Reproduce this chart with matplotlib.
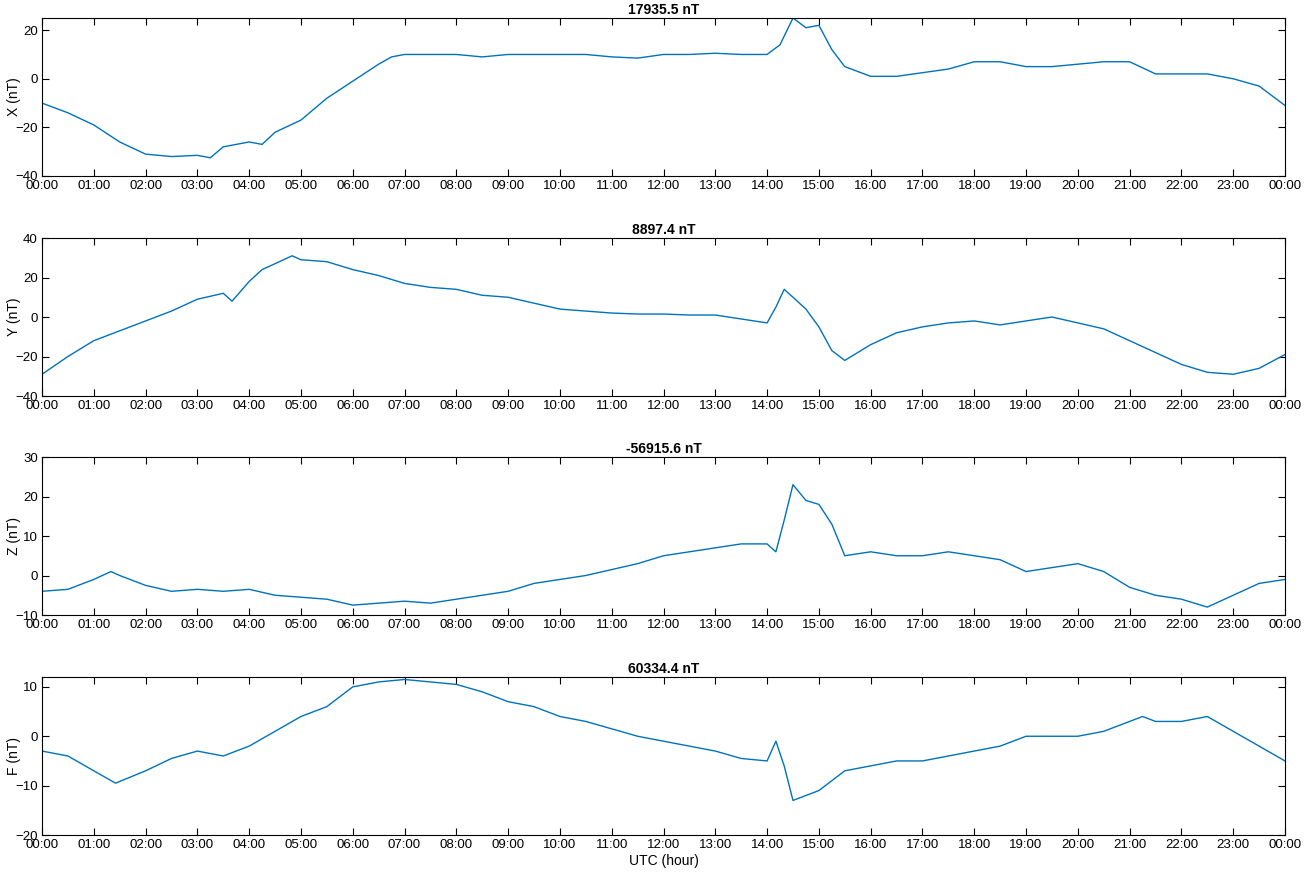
import matplotlib
matplotlib.use("Agg")
import matplotlib.pyplot as plt

tx = [0,0.5,1,1.5,2,2.5,3,3.25,3.5,4,4.25,4.5,5,5.5,6,6.5,6.75,7,7.5,8,8.5,9,9.5,10,10.5,11,11.5,12,12.5,13,13.5,14,14.25,14.5,14.75,15,15.25,15.5,16,16.5,17,17.5,18,18.5,19,19.5,20,20.5,21,21.5,22,22.5,23,23.5,24]
vx = [-10,-14,-19,-26,-31,-32,-31.5,-32.5,-28,-26,-27,-22,-17,-8,-1,6,9,10,10,10,9,10,10,10,10,9,8.5,10,10,10.5,10,10,14,25,21,22,12,5,1,1,2.5,4,7,7,5,5,6,7,7,2,2,2,0,-3,-11]

ty = [0,0.5,1,1.5,2,2.5,3,3.5,3.67,4,4.25,4.5,4.83,5,5.5,6,6.5,7,7.5,8,8.5,9,9.5,10,10.5,11,11.5,12,12.5,13,13.5,14,14.17,14.33,14.5,14.75,15,15.25,15.5,16,16.5,17,17.5,18,18.5,19,19.5,20,20.5,21,21.5,22,22.5,23,23.5,24]
vy = [-29,-20,-12,-7,-2,3,9,12,8,18,24,27,31,29,28,24,21,17,15,14,11,10,7,4,3,2,1.5,1.5,1,1,-1,-3,5,14,10,4,-5,-17,-22,-14,-8,-5,-3,-2,-4,-2,0,-3,-6,-12,-18,-24,-28,-29,-26,-19]

tz = [0,0.5,1,1.33,1.5,2,2.5,3,3.5,4,4.5,5,5.5,6,6.5,7,7.5,8,8.5,9,9.5,10,10.5,11,11.5,12,12.5,13,13.5,14,14.17,14.33,14.5,14.75,15,15.25,15.5,16,16.5,17,17.5,18,18.5,19,19.5,20,20.5,21,21.5,22,22.5,23,23.5,24]
vz = [-4,-3.5,-1,1,0,-2.5,-4,-3.5,-4,-3.5,-5,-5.5,-6,-7.5,-7,-6.5,-7,-6,-5,-4,-2,-1,0,1.5,3,5,6,7,8,8,6,14,23,19,18,13,5,6,5,5,6,5,4,1,2,3,1,-3,-5,-6,-8,-5,-2,-1]

tf = [0,0.5,1,1.42,2,2.5,3,3.5,4,4.5,5,5.5,6,6.5,7,7.5,8,8.5,9,9.5,10,10.5,11,11.5,12,12.5,13,13.5,14,14.17,14.33,14.5,15,15.5,16,16.5,17,17.5,18,18.5,19,19.5,20,20.5,21,21.25,21.5,22,22.5,23,23.5,24]
vf = [-3,-4,-7,-9.5,-7,-4.5,-3,-4,-2,1,4,6,10,11,11.5,11,10.5,9,7,6,4,3,1.5,0,-1,-2,-3,-4.5,-5,-1,-6,-13,-11,-7,-6,-5,-5,-4,-3,-2,0,0,0,1,3,4,3,3,4,1,-2,-5]

titles = ["17935.5 nT", "8897.4 nT", "-56915.6 nT", "60334.4 nT"]
ylabels = ["X (nT)", "Y (nT)", "Z (nT)", "F (nT)"]
ylims = [(-40, 25), (-40, 40), (-10, 30), (-20, 12)]
yticks = [[-40,-20,0,20], [-40,-20,0,20,40], [-10,0,10,20,30], [-20,-10,0,10]]
xticklabels = ["%02d:00" % (h % 24) for h in range(25)]

plt.rcParams['font.family'] = ['Liberation Sans', 'DejaVu Sans']
fig = plt.figure(figsize=(13.07, 8.72), dpi=100)
W, H = 1307, 872
tops = [18, 238, 457, 677]
series = [(tx, vx), (ty, vy), (tz, vz), (tf, vf)]
for i in range(4):
    ax = fig.add_axes([42/W, 1-(tops[i]+158)/H, (1285-42)/W, 158/H])
    t, v = series[i]
    ax.plot(t, v, color='#0072BD', lw=1)
    ax.set_xlim(0, 24)
    ax.set_ylim(*ylims[i])
    ax.set_yticks(yticks[i])
    ax.set_xticks(range(25))
    ax.set_xticklabels(xticklabels)
    ax.tick_params(direction='in', top=True, right=True, labelsize=9.5, length=5, pad=3)
    ax.set_title(titles[i], fontsize=10, fontweight='bold', pad=3)
    ax.set_ylabel(ylabels[i], fontsize=10)
    ax.yaxis.set_label_coords(-0.017, 0.5)
    if i == 3:
        ax.set_xlabel("UTC (hour)", fontsize=10, labelpad=2)
fig.savefig("out.png", dpi=100)
